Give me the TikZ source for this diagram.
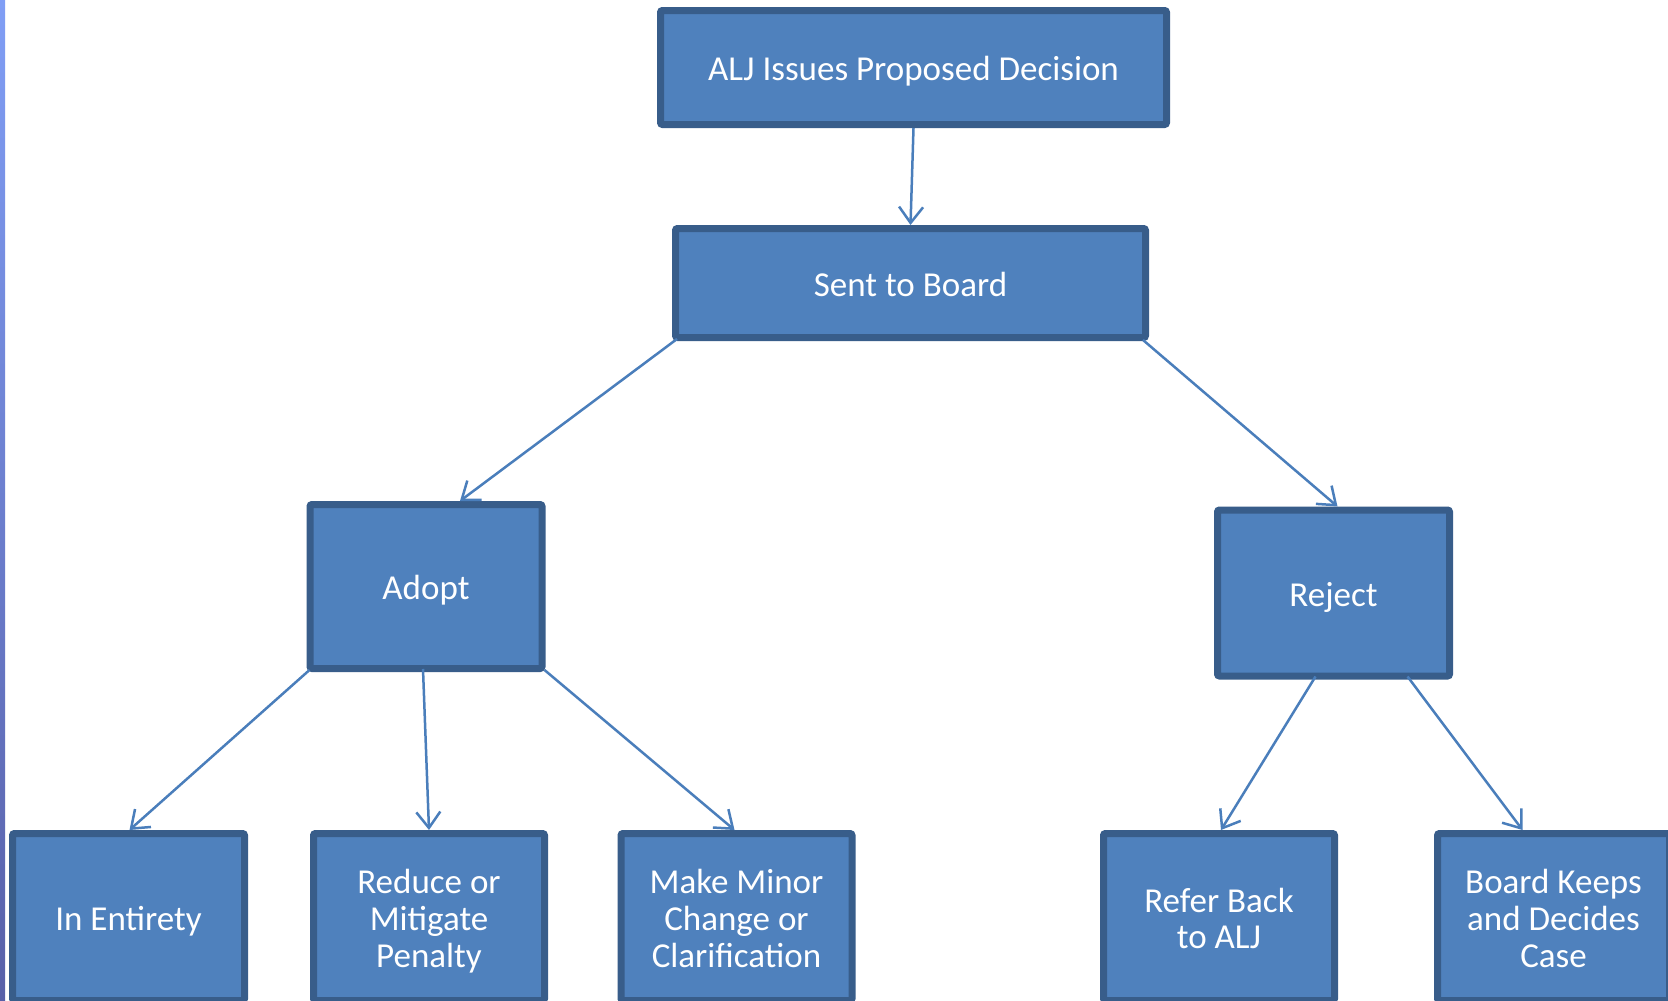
\documentclass[tikz,border=0pt]{standalone}
\usepackage{fontspec}
\setmainfont{Carlito}
\usetikzlibrary{arrows.meta}
\definecolor{boxfill}{HTML}{4F81BD}
\definecolor{boxborder}{HTML}{385D8A}
\definecolor{conncol}{HTML}{4A7EBB}
\definecolor{striptop}{RGB}{128,158,245}
\definecolor{stripmid}{RGB}{120,146,230}
\definecolor{stripbot}{RGB}{88,96,168}
\newcommand{\boxlbl}[1]{\raisebox{-6pt}[\height][\depth]{\begin{tabular}{@{}c@{}}#1\end{tabular}}}
\tikzset{
  box/.style={draw=boxborder, fill=boxfill, line width=7pt, rounded corners=2pt,
    text=white, align=center, inner sep=0pt, font=\fontsize{35}{36.7}\selectfont},
  conn/.style={draw=conncol, line width=2.5pt,
    -{Straight Barb[length=16pt, width=24pt, line width=2.5pt]}}
}
\begin{document}
\begin{tikzpicture}[x=1pt, y=-1pt]
\useasboundingbox (0,0) rectangle (1668,1001);
\clip (0,0) rectangle (1668,1001);
\fill[white] (0,0) rectangle (1668,1001);
\shade[top color=striptop, middle color=stripmid, bottom color=stripbot] (0,0) rectangle (5,1001);

\node[box, minimum width=506pt, minimum height=114pt] (top) at (913.5,67.5) {\boxlbl{ALJ Issues Proposed Decision}};
\node[box, minimum width=470pt, minimum height=109pt] (sent) at (910.5,283) {\boxlbl{Sent to Board}};
\node[box, minimum width=232pt, minimum height=164pt] (adopt) at (426,586.5) {\boxlbl{Adopt}};
\node[box, minimum width=232pt, minimum height=166pt] (reject) at (1333.5,593) {\boxlbl{Reject}};

\node[box, minimum width=232pt, minimum height=167pt] (entire) at (128.5,917) {\boxlbl{In Entirety}};
\node[box, minimum width=231pt, minimum height=167pt] (reduce) at (429,917) {\boxlbl{Reduce or\\Mitigate\\Penalty}};
\node[box, minimum width=231pt, minimum height=167pt] (minor) at (736.5,917) {\boxlbl{Make Minor\\Change or\\Clarification}};
\node[box, minimum width=231pt, minimum height=167pt] (refer) at (1219,917) {\boxlbl{Refer Back\\to ALJ}};
\node[box, minimum width=232pt, minimum height=167pt] (keeps) at (1553.5,917) {\boxlbl{Board Keeps\\and Decides\\Case}};

\draw[conn] ([xshift=0pt]top.south) -- ([xshift=0pt]sent.north);
\draw[conn] ([xshift=5pt,yshift=2pt]sent.south west) -- ([xshift=34pt]adopt.north);
\draw[conn] ([xshift=-6pt,yshift=1pt]sent.south east) -- ([xshift=4pt]reject.north);
\draw[conn] ([xshift=3pt,yshift=2pt]adopt.south west) -- ([xshift=1pt]entire.north);
\draw[conn] ([xshift=-3pt,yshift=3pt]adopt.south) -- ([xshift=0pt]reduce.north);
\draw[conn] ([xshift=-1pt,yshift=2pt]adopt.south east) -- ([xshift=-2pt]minor.north);
\draw[conn] ([xshift=-18pt,yshift=3pt]reject.south) -- ([xshift=2pt]refer.north);
\draw[conn] ([xshift=74pt,yshift=3pt]reject.south) -- ([xshift=-31pt]keeps.north);
\end{tikzpicture}
\end{document}
